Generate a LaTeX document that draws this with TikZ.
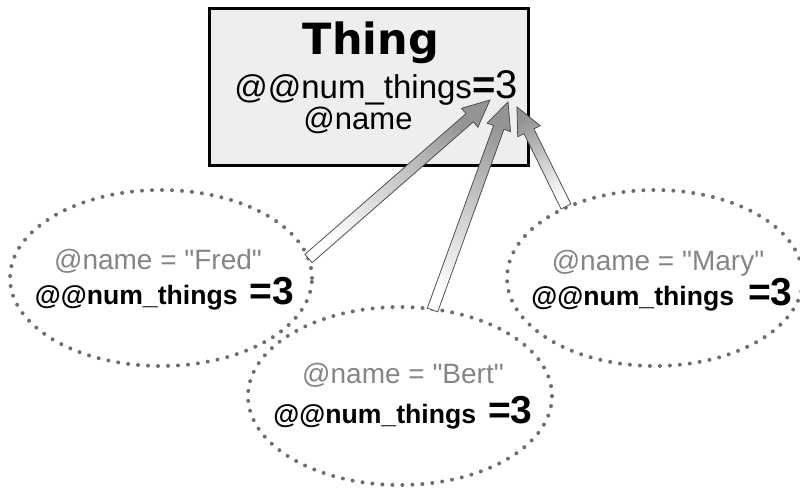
\documentclass[tikz,border=0pt]{standalone}
\usepackage{fontspec}
\setmainfont{Liberation Sans}
\newfontfamily\heavyfont{DejaVu Sans}
\usetikzlibrary{shapes.geometric,calc}
\definecolor{boxfill}{HTML}{EEEEEE}
\definecolor{dotgray}{HTML}{6E6E6E}
\definecolor{namegray}{HTML}{858585}
\definecolor{arrline}{HTML}{505050}
\newcommand\blockarr[3]{%
  \coordinate (hb) at ($(#2)!27pt!(#1)$);
  \path[arrowstyle, shading angle=#3]
    ($(#1)!5.5pt!90:(#2)$) -- ($(hb)!5.5pt!90:(#2)$) -- ($(hb)!12.5pt!90:(#2)$)
    -- (#2) -- ($(hb)!12.5pt!-90:(#2)$) -- ($(hb)!5.5pt!-90:(#2)$)
    -- ($(#1)!5.5pt!-90:(#2)$) -- cycle;}
\newcommand\qq{\textquotedbl}
\begin{document}
\begin{tikzpicture}[x=1pt,y=-1pt,
  obj/.style={ellipse, draw=dotgray, line width=4pt, line cap=round,
    dash pattern=on 0pt off 10pt, inner sep=0pt},
  thingbox/.style={draw=black, line width=3pt, fill=boxfill, inner sep=0pt},
  txt/.style={anchor=base, inner sep=0pt},
  nametxt/.style={txt, text=namegray, font=\fontsize{28}{32}\selectfont},
  cnttxt/.style={txt, font=\fontsize{26.6}{30}\selectfont\bfseries},
  arrowstyle/.style={draw=arrline, line width=0.8pt, line join=miter,
    top color=black!42, bottom color=white}]
\useasboundingbox (0,0) rectangle (800,487);
% objects
\node[obj, minimum width=302pt, minimum height=176pt] (fred) at (161,278) {};
\node[obj, minimum width=296pt, minimum height=176pt] (mary) at (655,278) {};
\node[obj, minimum width=304pt, minimum height=178pt] (bert) at (400,396) {};
\node[nametxt] (fredname) at (158,269) {@name = \qq Fred\qq};
\node[cnttxt] (fredcnt) at (164.5,304) {@@num\_things\hspace{12pt}{\fontsize{39}{40}\selectfont=3}};
\node[nametxt] (bertname) at (403,383) {@name = \qq Bert\qq};
\node[cnttxt] (bertcnt) at (403,423) {@@num\_things\hspace{12pt}{\fontsize{39}{40}\selectfont=3}};
\node[nametxt] (maryname) at (658,270) {@name = \qq Mary\qq};
\node[cnttxt] (marycnt) at (662,305) {@@num\_things\hspace{14pt}{\fontsize{39}{40}\selectfont=3}};
% class box
\node[thingbox, minimum width=319pt, minimum height=157pt] (thing) at (369,87) {};
\node[txt, font=\heavyfont\fontsize{43}{46}\selectfont\bfseries] (title) at (371,55) {Thing};
\node[txt, font=\fontsize{33}{36}\selectfont] (cls) at (376,98) {@@num\_things{\fontsize{40}{44}\selectfont\textbf{=}3}};
\node[txt, font=\fontsize{31}{34}\selectfont] (ivar) at (358,129) {@name};
% arrows
\coordinate (fredtail) at (308.5,258.5);
\coordinate (fredtip) at (490,100);
\coordinate (berttail) at (432.5,310);
\coordinate (berttip) at (508,102);
\coordinate (marytail) at (566,206.5);
\coordinate (marytip) at (517,107);
\blockarr{fredtail}{fredtip}{-49}
\blockarr{berttail}{berttip}{-20}
\blockarr{marytail}{marytip}{26}
\end{tikzpicture}
\end{document}
